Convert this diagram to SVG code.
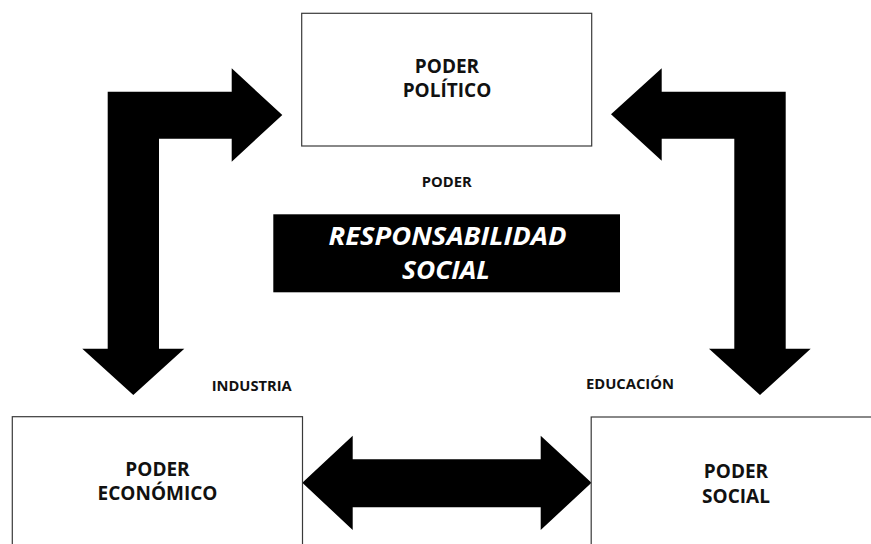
<svg xmlns="http://www.w3.org/2000/svg" width="871" height="544" viewBox="0 0 871 544">
<style>
.box{fill:#fff;stroke:#3a3a3a;stroke-width:1.2}
.arr{fill:#000}
.t{font-family:"Open Sans","DejaVu Sans",sans-serif;font-weight:bold;fill:#111;text-anchor:middle}
.big{font-size:19px}
.small{font-size:14px}
.rs{font-family:"Open Sans","DejaVu Sans",sans-serif;font-weight:bold;font-style:italic;font-size:25px;fill:#fff;text-anchor:middle}
</style>
<rect width="871" height="544" fill="#fff"/>
<g id="connectors">
<path class="arr" d="M107.7,91.7 L231.7,91.7 L231.7,68.3 L282.3,115 L231.7,161.7 L231.7,138.7 L159,138.7 L159,348.7 L184.3,348.7 L133.3,395 L82.3,348.7 L107.7,348.7 Z"/>
<path class="arr" d="M785.7,91.7 L661.7,91.7 L661.7,68.3 L611,114.3 L661.7,160.7 L661.7,138.7 L734.3,138.7 L734.3,348.7 L709,348.7 L760,395 L810.7,348.7 L785.7,348.7 Z"/>
<path class="arr" d="M302.3,482.7 L352.7,435.7 L352.7,459.3 L540.7,459.3 L540.7,435.7 L591.5,482.7 L540.7,530 L540.7,507.3 L352.7,507.3 L352.7,530 Z"/>
</g>
<g id="poder-politico">
<rect class="box" x="301.7" y="13.3" width="290" height="132.7"/>
<text class="t big" x="447" y="73.3">PODER</text>
<text class="t big" x="447" y="96.7">POLÍTICO</text>
</g>
<g id="label-poder">
<text class="t small" x="446.7" y="187.3" textLength="50" lengthAdjust="spacingAndGlyphs">PODER</text>
</g>
<g id="responsabilidad-social">
<rect x="273.3" y="214.3" width="346.7" height="78" fill="#000"/>
<text class="rs" x="447.5" y="245" textLength="238" lengthAdjust="spacingAndGlyphs">RESPONSABILIDAD</text>
<text class="rs" x="446" y="279" textLength="88" lengthAdjust="spacingAndGlyphs">SOCIAL</text>
</g>
<g id="label-industria">
<text class="t small" x="251.7" y="390.7" textLength="80" lengthAdjust="spacingAndGlyphs">INDUSTRIA</text>
</g>
<g id="label-educacion">
<text class="t small" x="630" y="389.3" textLength="88" lengthAdjust="spacingAndGlyphs">EDUCACIÓN</text>
</g>
<g id="poder-economico">
<rect class="box" x="12.3" y="416.7" width="290.2" height="140"/>
<text class="t big" x="157.5" y="476">PODER</text>
<text class="t big" x="157.5" y="500">ECONÓMICO</text>
</g>
<g id="poder-social">
<rect class="box" x="591.2" y="417" width="290" height="140"/>
<text class="t big" x="736" y="478.3">PODER</text>
<text class="t big" x="736" y="502.7">SOCIAL</text>
</g>
</svg>
